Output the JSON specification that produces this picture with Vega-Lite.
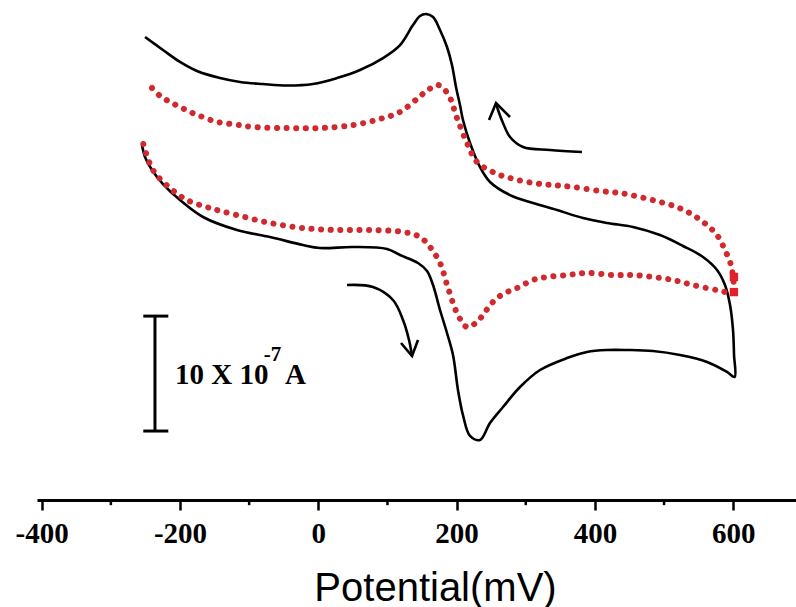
{
  "$schema": "https://vega.github.io/schema/vega-lite/v6.json",
  "width": 759,
  "height": 500,
  "autosize": "none",
  "padding": {"left": 37, "top": 0, "right": 0, "bottom": 107},
  "background": "white",
  "config": {"view": {"stroke": null}},
  "datasets": {
    "curves": [
      {"series":"black","ord":1,"mV":-250.6,"I":16.78},
      {"series":"black","ord":2,"mV":-224.6,"I":15.65},
      {"series":"black","ord":3,"mV":-200.0,"I":14.61},
      {"series":"black","ord":4,"mV":-175.4,"I":13.82},
      {"series":"black","ord":5,"mV":-142.2,"I":13.21},
      {"series":"black","ord":6,"mV":-113.2,"I":12.87},
      {"series":"black","ord":7,"mV":-80.0,"I":12.69},
      {"series":"black","ord":8,"mV":-45.3,"I":12.56},
      {"series":"black","ord":9,"mV":-7.7,"I":12.69},
      {"series":"black","ord":10,"mV":27.0,"I":13.21},
      {"series":"black","ord":11,"mV":60.3,"I":13.91},
      {"series":"black","ord":12,"mV":93.6,"I":14.95},
      {"series":"black","ord":13,"mV":118.2,"I":16.08},
      {"series":"black","ord":14,"mV":136.9,"I":17.82},
      {"series":"black","ord":15,"mV":147.1,"I":18.61},
      {"series":"black","ord":16,"mV":155.7,"I":18.78},
      {"series":"black","ord":17,"mV":165.9,"I":18.52},
      {"series":"black","ord":18,"mV":176.0,"I":17.39},
      {"series":"black","ord":19,"mV":186.1,"I":15.91},
      {"series":"black","ord":20,"mV":193.3,"I":14.34},
      {"series":"black","ord":21,"mV":199.1,"I":12.43},
      {"series":"black","ord":22,"mV":204.9,"I":10.86},
      {"series":"black","ord":23,"mV":209.2,"I":9.56},
      {"series":"black","ord":24,"mV":219.4,"I":7.56},
      {"series":"black","ord":25,"mV":233.8,"I":5.47},
      {"series":"black","ord":26,"mV":248.3,"I":4.17},
      {"series":"black","ord":27,"mV":277.2,"I":3.03},
      {"series":"black","ord":28,"mV":310.5,"I":2.34},
      {"series":"black","ord":29,"mV":345.2,"I":1.73},
      {"series":"black","ord":30,"mV":382.8,"I":1.03},
      {"series":"black","ord":31,"mV":417.5,"I":0.60},
      {"series":"black","ord":32,"mV":455.1,"I":0.25},
      {"series":"black","ord":33,"mV":494.1,"I":-0.45},
      {"series":"black","ord":34,"mV":527.4,"I":-1.40},
      {"series":"black","ord":35,"mV":556.3,"I":-2.36},
      {"series":"black","ord":36,"mV":576.6,"I":-3.49},
      {"series":"black","ord":37,"mV":588.1,"I":-4.80},
      {"series":"black","ord":38,"mV":595.4,"I":-6.54},
      {"series":"black","ord":39,"mV":599.7,"I":-8.71},
      {"series":"black","ord":40,"mV":601.2,"I":-10.89},
      {"series":"black","ord":41,"mV":602.0,"I":-12.80},
      {"series":"black","ord":42,"mV":591.0,"I":-12.36},
      {"series":"black","ord":43,"mV":562.1,"I":-11.49},
      {"series":"black","ord":44,"mV":523.1,"I":-10.89},
      {"series":"black","ord":45,"mV":484.0,"I":-10.54},
      {"series":"black","ord":46,"mV":446.4,"I":-10.45},
      {"series":"black","ord":47,"mV":417.5,"I":-10.45},
      {"series":"black","ord":48,"mV":388.6,"I":-10.62},
      {"series":"black","ord":49,"mV":359.7,"I":-11.15},
      {"series":"black","ord":50,"mV":320.6,"I":-12.19},
      {"series":"black","ord":51,"mV":291.7,"I":-13.67},
      {"series":"black","ord":52,"mV":267.1,"I":-15.41},
      {"series":"black","ord":53,"mV":248.3,"I":-16.80},
      {"series":"black","ord":54,"mV":233.8,"I":-18.28},
      {"series":"black","ord":55,"mV":219.4,"I":-17.93},
      {"series":"black","ord":56,"mV":209.2,"I":-16.11},
      {"series":"black","ord":57,"mV":202.0,"I":-13.93},
      {"series":"black","ord":58,"mV":194.8,"I":-10.89},
      {"series":"black","ord":59,"mV":186.1,"I":-8.97},
      {"series":"black","ord":60,"mV":176.0,"I":-6.97},
      {"series":"black","ord":61,"mV":165.9,"I":-4.80},
      {"series":"black","ord":62,"mV":157.2,"I":-3.58},
      {"series":"black","ord":63,"mV":144.2,"I":-2.88},
      {"series":"black","ord":64,"mV":118.2,"I":-2.19},
      {"series":"black","ord":65,"mV":99.4,"I":-1.66},
      {"series":"black","ord":66,"mV":50.2,"I":-1.49},
      {"series":"black","ord":67,"mV":2.4,"I":-1.58},
      {"series":"black","ord":68,"mV":-22.1,"I":-1.32},
      {"series":"black","ord":69,"mV":-69.9,"I":-0.62},
      {"series":"black","ord":70,"mV":-117.6,"I":-0.01},
      {"series":"black","ord":71,"mV":-166.7,"I":1.12},
      {"series":"black","ord":72,"mV":-200.0,"I":2.60},
      {"series":"black","ord":73,"mV":-224.6,"I":3.99},
      {"series":"black","ord":74,"mV":-240.5,"I":5.21},
      {"series":"black","ord":75,"mV":-250.6,"I":6.34},
      {"series":"black","ord":76,"mV":-255.0,"I":7.38},
      {"series":"red","ord":1,"mV":-240.5,"I":12.34},
      {"series":"red","ord":2,"mV":-228.9,"I":11.65},
      {"series":"red","ord":3,"mV":-214.5,"I":11.13},
      {"series":"red","ord":4,"mV":-200.0,"I":10.69},
      {"series":"red","ord":5,"mV":-185.5,"I":10.26},
      {"series":"red","ord":6,"mV":-171.1,"I":9.91},
      {"series":"red","ord":7,"mV":-146.5,"I":9.39},
      {"series":"red","ord":8,"mV":-120.5,"I":9.17},
      {"series":"red","ord":9,"mV":-94.4,"I":8.95},
      {"series":"red","ord":10,"mV":-45.3,"I":8.86},
      {"series":"red","ord":11,"mV":2.4,"I":8.86},
      {"series":"red","ord":12,"mV":50.2,"I":9.12},
      {"series":"red","ord":13,"mV":89.2,"I":9.65},
      {"series":"red","ord":14,"mV":118.2,"I":10.26},
      {"series":"red","ord":15,"mV":144.2,"I":11.47},
      {"series":"red","ord":16,"mV":158.6,"I":12.17},
      {"series":"red","ord":17,"mV":173.1,"I":12.60},
      {"series":"red","ord":18,"mV":187.6,"I":11.82},
      {"series":"red","ord":19,"mV":200.6,"I":9.73},
      {"series":"red","ord":20,"mV":215.0,"I":7.56},
      {"series":"red","ord":21,"mV":229.5,"I":5.91},
      {"series":"red","ord":22,"mV":255.5,"I":4.95},
      {"series":"red","ord":23,"mV":277.2,"I":4.51},
      {"series":"red","ord":24,"mV":310.5,"I":4.08},
      {"series":"red","ord":25,"mV":339.4,"I":3.90},
      {"series":"red","ord":26,"mV":368.3,"I":3.73},
      {"series":"red","ord":27,"mV":407.4,"I":3.38},
      {"series":"red","ord":28,"mV":436.3,"I":3.21},
      {"series":"red","ord":29,"mV":465.2,"I":2.86},
      {"series":"red","ord":30,"mV":494.1,"I":2.43},
      {"series":"red","ord":31,"mV":518.7,"I":1.99},
      {"series":"red","ord":32,"mV":541.9,"I":1.29},
      {"series":"red","ord":33,"mV":562.1,"I":0.42},
      {"series":"red","ord":34,"mV":576.6,"I":-0.45},
      {"series":"red","ord":35,"mV":588.1,"I":-1.75},
      {"series":"red","ord":36,"mV":596.8,"I":-3.06},
      {"series":"red","ord":37,"mV":599.7,"I":-4.10},
      {"series":"red","ord":38,"mV":599.7,"I":-5.41},
      {"series":"red","ord":39,"mV":576.6,"I":-5.23},
      {"series":"red","ord":40,"mV":541.9,"I":-4.80},
      {"series":"red","ord":41,"mV":512.9,"I":-4.36},
      {"series":"red","ord":42,"mV":484.0,"I":-4.10},
      {"series":"red","ord":43,"mV":455.1,"I":-3.93},
      {"series":"red","ord":44,"mV":426.2,"I":-3.93},
      {"series":"red","ord":45,"mV":388.6,"I":-3.75},
      {"series":"red","ord":46,"mV":359.7,"I":-3.93},
      {"series":"red","ord":47,"mV":330.7,"I":-4.10},
      {"series":"red","ord":48,"mV":310.5,"I":-4.36},
      {"series":"red","ord":49,"mV":287.3,"I":-5.06},
      {"series":"red","ord":50,"mV":267.1,"I":-5.58},
      {"series":"red","ord":51,"mV":252.6,"I":-6.27},
      {"series":"red","ord":52,"mV":241.1,"I":-7.14},
      {"series":"red","ord":53,"mV":229.5,"I":-8.01},
      {"series":"red","ord":54,"mV":215.0,"I":-8.45},
      {"series":"red","ord":55,"mV":202.0,"I":-7.41},
      {"series":"red","ord":56,"mV":187.6,"I":-5.06},
      {"series":"red","ord":57,"mV":176.0,"I":-2.88},
      {"series":"red","ord":58,"mV":161.5,"I":-1.49},
      {"series":"red","ord":59,"mV":147.1,"I":-0.62},
      {"series":"red","ord":60,"mV":122.5,"I":-0.18},
      {"series":"red","ord":61,"mV":74.8,"I":-0.01},
      {"series":"red","ord":62,"mV":27.0,"I":-0.01},
      {"series":"red","ord":63,"mV":-22.1,"I":0.16},
      {"series":"red","ord":64,"mV":-69.9,"I":0.60},
      {"series":"red","ord":65,"mV":-117.6,"I":1.29},
      {"series":"red","ord":66,"mV":-156.6,"I":1.90},
      {"series":"red","ord":67,"mV":-189.9,"I":2.60},
      {"series":"red","ord":68,"mV":-214.5,"I":3.64},
      {"series":"red","ord":69,"mV":-239.1,"I":5.21},
      {"series":"red","ord":70,"mV":-253.5,"I":7.56},
      {"series":"arrow1","ord":1,"mV":381.3,"I":6.78},
      {"series":"arrow1","ord":2,"mV":335.1,"I":6.95},
      {"series":"arrow1","ord":3,"mV":296.0,"I":7.21},
      {"series":"arrow1","ord":4,"mV":277.2,"I":8.08},
      {"series":"arrow1","ord":5,"mV":267.1,"I":9.30},
      {"series":"arrow1","ord":6,"mV":259.9,"I":10.43},
      {"series":"arrow1","ord":7,"mV":257.0,"I":11.04},
      {"series":"arrow1head","ord":1,"mV":246.9,"I":9.56},
      {"series":"arrow1head","ord":2,"mV":257.0,"I":11.04},
      {"series":"arrow1head","ord":3,"mV":277.2,"I":9.82},
      {"series":"arrow2","ord":1,"mV":41.5,"I":-4.80},
      {"series":"arrow2","ord":2,"mV":79.1,"I":-4.97},
      {"series":"arrow2","ord":3,"mV":108.0,"I":-6.10},
      {"series":"arrow2","ord":4,"mV":122.5,"I":-7.84},
      {"series":"arrow2","ord":5,"mV":131.2,"I":-9.58},
      {"series":"arrow2","ord":6,"mV":135.5,"I":-10.97},
      {"series":"arrow2head","ord":1,"mV":119.6,"I":-9.84},
      {"series":"arrow2head","ord":2,"mV":135.5,"I":-10.97},
      {"series":"arrow2head","ord":3,"mV":144.2,"I":-9.58}
    ],
    "ends": [
      {"mV": 601, "I": -4.10},
      {"mV": 601, "I": -5.41}
    ],
    "bar": [
      {"mV": -236.2, "mV2": -236.2, "I": -7.5, "I2": -17.5},
      {"mV": -253.1, "mV2": -216.9, "I": -7.5, "I2": -7.5},
      {"mV": -253.1, "mV2": -216.9, "I": -17.5, "I2": -17.5}
    ],
    "minor": [
      {"mV": -300, "I": -23.5, "I2": -23.95},
      {"mV": -100, "I": -23.5, "I2": -23.95},
      {"mV": 100, "I": -23.5, "I2": -23.95},
      {"mV": 300, "I": -23.5, "I2": -23.95},
      {"mV": 500, "I": -23.5, "I2": -23.95}
    ],
    "labels": [
      {"text": "10 X 10", "mV": -207.2, "I": -13.41, "size": 29},
      {"text": "-7", "mV": -79.0, "I": -11.4, "size": 21},
      {"text": "A", "mV": -48.0, "I": -13.41, "size": 29}
    ]
  },
  "encoding": {
    "x": {
      "field": "mV",
      "type": "quantitative",
      "scale": {"domain": [-406.8, 690.8], "nice": false, "zero": false},
      "axis": {
        "values": [-400, -200, 0, 200, 400, 600],
        "labelExpr": "datum.value + ''",
        "grid": false,
        "domainColor": "black",
        "domainWidth": 3,
        "tickColor": "black",
        "tickWidth": 2.5,
        "tickSize": 10,
        "labelFont": "Liberation Serif",
        "labelFontWeight": "bold",
        "labelFontSize": 29,
        "labelColor": "black",
        "labelPadding": 9,
        "labelFlush": false,
        "labelOverlap": false,
        "title": "Potential(mV)",
        "titleFont": "Liberation Sans",
        "titleFontSize": 40,
        "titleFontWeight": "normal",
        "titleColor": "black",
        "titlePadding": 20,
        "titleX": 398,
        "titleAlign": "center"
      }
    },
    "y": {
      "field": "I",
      "type": "quantitative",
      "scale": {"domain": [-23.5, 20], "nice": false, "zero": false},
      "axis": null
    }
  },
  "layer": [
    {
      "data": {"name": "curves"},
      "transform": [{"filter": "datum.series === 'black' || datum.series === 'arrow1' || datum.series === 'arrow2'"}],
      "mark": {"type": "line", "color": "black", "strokeWidth": 2.6, "interpolate": "catmull-rom"},
      "encoding": {
        "detail": {"field": "series", "type": "nominal"},
        "order": {"field": "ord", "type": "quantitative"}
      }
    },
    {
      "data": {"name": "curves"},
      "transform": [{"filter": "datum.series === 'arrow1head' || datum.series === 'arrow2head'"}],
      "mark": {"type": "line", "color": "black", "strokeWidth": 2.6, "interpolate": "linear"},
      "encoding": {
        "detail": {"field": "series", "type": "nominal"},
        "order": {"field": "ord", "type": "quantitative"}
      }
    },
    {
      "data": {"name": "curves"},
      "transform": [{"filter": "datum.series === 'red'"}],
      "mark": {"type": "line", "color": "#d02a2e", "strokeWidth": 6, "strokeCap": "round", "strokeDash": [0.1, 9.5], "interpolate": "catmull-rom"},
      "encoding": {
        "order": {"field": "ord", "type": "quantitative"}
      }
    },
    {
      "data": {"name": "ends"},
      "mark": {"type": "point", "shape": "square", "filled": true, "color": "#e0202a", "size": 70, "opacity": 1}
    },
    {
      "data": {"name": "bar"},
      "mark": {"type": "rule", "color": "black", "strokeWidth": 3},
      "encoding": {
        "x2": {"field": "mV2"},
        "y2": {"field": "I2"}
      }
    },
    {
      "data": {"name": "minor"},
      "mark": {"type": "rule", "color": "black", "strokeWidth": 2.5},
      "encoding": {
        "y2": {"field": "I2"}
      }
    },
    {
      "data": {"name": "labels"},
      "mark": {"type": "text", "align": "left", "baseline": "alphabetic", "font": "Liberation Serif", "fontWeight": "bold", "color": "black"},
      "encoding": {
        "text": {"field": "text", "type": "nominal"},
        "size": {"field": "size", "type": "quantitative", "scale": null}
      }
    }
  ]
}
